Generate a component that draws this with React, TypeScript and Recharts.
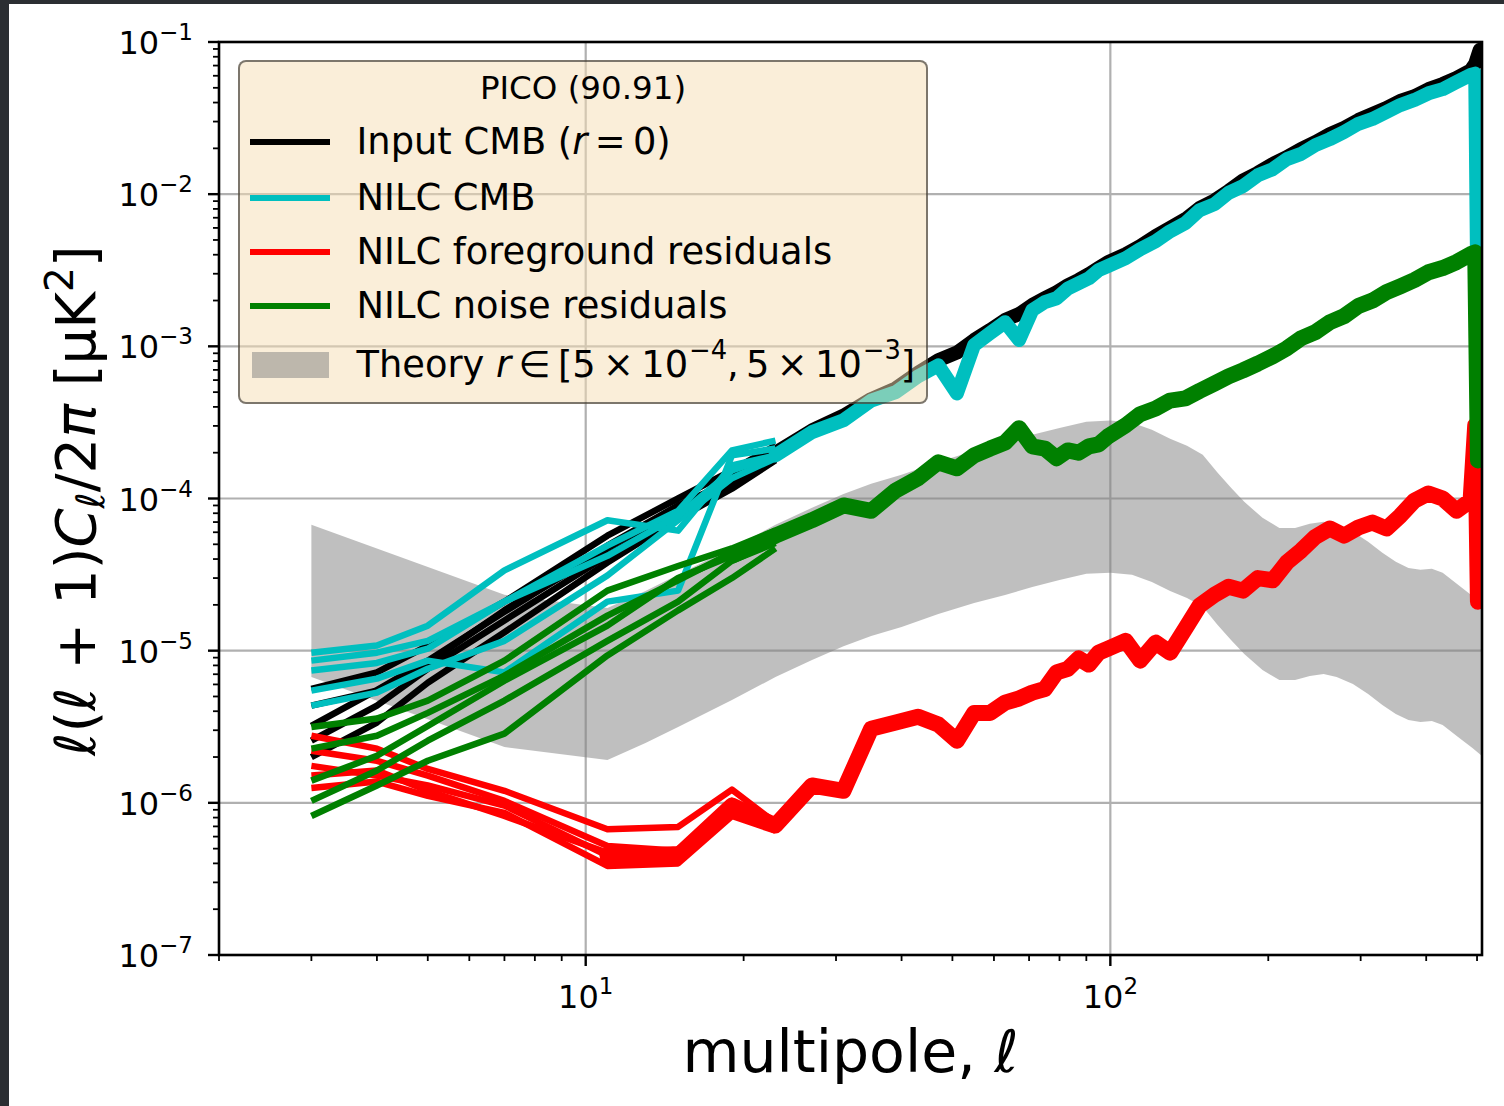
import React from 'react';
import { ComposedChart, Line, Area, XAxis, YAxis, CartesianGrid } from 'recharts';

// ---------------- data ----------------
const ELL = [3, 4, 5, 7, 11, 15, 19, 23, 27, 31, 35, 39, 43, 47, 51, 55, 59, 63, 67, 71, 75, 79, 83, 87, 91, 95, 99,
  107, 114, 122, 130, 139, 148, 158, 168, 179, 191, 204, 217, 231, 246, 262, 279, 297, 316, 336, 357, 380, 404, 430,
  457, 486, 496, 502, 506];

const inputCmbMain = [3.2e-6, 5.5e-6, 8.6e-6, 1.8e-5, 4.7e-5, 9.0e-5, 1.31e-4, 2.0e-4, 2.8e-4, 3.5e-4, 4.5e-4, 5.3e-4,
  6.7e-4, 8.1e-4, 9.1e-4, 1.10e-3, 1.28e-3, 1.49e-3, 1.63e-3, 1.87e-3, 2.07e-3, 2.27e-3, 2.52e-3, 2.73e-3, 2.98e-3,
  3.27e-3, 3.58e-3, 4.03e-3, 4.55e-3, 5.3e-3, 6.0e-3, 6.85e-3, 8.1e-3, 9.1e-3, 1.05e-2, 1.23e-2, 1.38e-2, 1.58e-2,
  1.75e-2, 1.98e-2, 2.2e-2, 2.48e-2, 2.73e-2, 3.07e-2, 3.37e-2, 3.68e-2, 4.1e-2, 4.4e-2, 4.9e-2, 5.3e-2, 5.8e-2,
  6.5e-2, 7.2e-2, 8.2e-2, 8.9e-2];

const nilcCmbMain = [7.4e-6, 8.3e-6, 1.03e-5, 2.1e-5, 4.2e-5, 7.7e-5, 1.53e-4, 1.92e-4, 2.73e-4, 3.27e-4, 4.4e-4, 5.0e-4,
  6.35e-4, 7.5e-4, 4.9e-4, 1.02e-3, 1.22e-3, 1.44e-3, 1.10e-3, 1.73e-3, 1.95e-3, 2.07e-3, 2.4e-3, 2.6e-3, 2.8e-3,
  3.17e-3, 3.37e-3, 3.8e-3, 4.35e-3, 4.9e-3, 5.7e-3, 6.45e-3, 7.85e-3, 8.6e-3, 1.02e-2, 1.13e-2, 1.33e-2, 1.46e-2,
  1.7e-2, 1.84e-2, 2.1e-2, 2.3e-2, 2.56e-2, 2.9e-2, 3.12e-2, 3.47e-2, 3.85e-2, 4.16e-2, 4.6e-2, 4.9e-2, 5.45e-2,
  6.07e-2, 6.2e-2, 8.1e-4, null];

const fgResMain = [1.75e-6, 1.51e-6, 1.3e-6, 9.6e-7, 4.5e-7, 4.5e-7, 9.6e-7, 7.1e-7, 1.3e-6, 1.2e-6, 3.07e-6, 3.37e-6,
  3.68e-6, 3.27e-6, 2.56e-6, 3.9e-6, 3.9e-6, 4.55e-6, 4.85e-6, 5.3e-6, 5.6e-6, 7.2e-6, 7.6e-6, 8.9e-6, 8.1e-6, 9.7e-6,
  1.03e-5, 1.16e-5, 8.6e-6, 1.13e-5, 9.7e-6, 1.4e-5, 1.98e-5, 2.33e-5, 2.63e-5, 2.48e-5, 3.0e-5, 2.9e-5, 3.8e-5,
  4.55e-5, 5.6e-5, 6.35e-5, 5.7e-5, 6.45e-5, 6.95e-5, 6.35e-5, 7.7e-5, 9.7e-5, 1.08e-4, 1.0e-4, 8.3e-5, 9.7e-5,
  3.03e-4, 2.1e-5, null];

const noiseResMain = [1.4e-6, 2.04e-6, 3.2e-6, 6.35e-6, 1.46e-5, 3.0e-5, 4.2e-5, 5.7e-5, 7.2e-5, 9.0e-5, 8.3e-5, 1.13e-4,
  1.36e-4, 1.73e-4, 1.58e-4, 1.92e-4, 2.13e-4, 2.33e-4, 2.9e-4, 2.2e-4, 2.13e-4, 1.84e-4, 2.07e-4, 2.0e-4, 2.2e-4,
  2.27e-4, 2.56e-4, 3.03e-4, 3.58e-4, 3.9e-4, 4.4e-4, 4.55e-4, 5.1e-4, 5.7e-4, 6.35e-4, 6.95e-4, 7.7e-4, 8.6e-4,
  9.7e-4, 1.13e-3, 1.24e-3, 1.44e-3, 1.58e-3, 1.84e-3, 2.0e-3, 2.27e-3, 2.48e-3, 2.73e-3, 3.07e-3, 3.27e-3, 3.58e-3,
  4.03e-3, 4.15e-3, 1.78e-4, null];

// individual simulations at low multipoles
const ELL_LOW = [3, 4, 5, 7, 11, 15, 19, 23];

const inputCmbSims = [
  [5.6e-6, 7.2e-6, 1.08e-5, 2.1e-5, 5.7e-5, 1.0e-4, 1.53e-4, 2.23e-4],
  [4.35e-6, 5.46e-6, 8.3e-6, 1.84e-5, 4.9e-5, 9.0e-5, 1.28e-4, 2.07e-4],
  [2.56e-6, 4.35e-6, 7.6e-6, 1.58e-5, 4.2e-5, 8.1e-5, 1.28e-4, 1.92e-4],
  [2.0e-6, 3.37e-6, 6.15e-6, 1.32e-5, 3.8e-5, 7.4e-5, 1.16e-4, 1.78e-4],
];
const nilcCmbSims = [
  [9.7e-6, 1.08e-5, 1.46e-5, 3.37e-5, 7.2e-5, 6.15e-5, 1.65e-4, 1.92e-4],
  [8.6e-6, 9.7e-6, 1.16e-5, 2.1e-5, 4.9e-5, 8.3e-5, 2.07e-4, 2.4e-4],
  [5.46e-6, 6.55e-6, 8.6e-6, 7.2e-6, 2.1e-5, 2.48e-5, 1.92e-4, 2.13e-4],
  [4.35e-6, 5.3e-6, 7.6e-6, 1.16e-5, 3.12e-5, 7.2e-5, 1.36e-4, 1.84e-4],
];
const fgResSims = [
  [2.76e-6, 2.27e-6, 1.67e-6, 1.2e-6, 6.7e-7, 6.95e-7, 1.22e-6, 7.4e-7],
  [2.2e-6, 1.89e-6, 1.51e-6, 1.03e-6, 5.2e-7, 4.85e-7, 1.03e-6, 6.7e-7],
  [1.51e-6, 1.63e-6, 1.2e-6, 8.2e-7, 4.7e-7, 4.95e-7, 8.6e-7, 7.6e-7],
  [1.25e-6, 1.38e-6, 1.11e-6, 8.6e-7, 3.85e-7, 4.0e-7, 8.2e-7, 6.55e-7],
];
const noiseResSims = [
  [3.15e-6, 3.58e-6, 4.7e-6, 8.6e-6, 2.48e-5, 3.6e-5, 4.7e-5, 6.15e-5],
  [2.27e-6, 2.76e-6, 3.9e-6, 6.85e-6, 1.7e-5, 2.9e-5, 4.4e-5, 5.46e-5],
  [1.03e-6, 1.63e-6, 2.56e-6, 4.7e-6, 1.16e-5, 2.1e-5, 3.9e-5, 5.1e-5],
  [8.2e-7, 1.3e-6, 1.89e-6, 2.85e-6, 9.3e-6, 1.84e-5, 3.0e-5, 4.7e-5],
];

// theory band r in [5e-4, 5e-3]
const THEORY_ELL = [3, 7, 11, 13, 15, 19, 23, 27, 31, 35, 40, 47, 55, 63, 71, 80, 90, 100, 110, 120, 130, 140, 150, 160,
  170, 180, 195, 210, 225, 240, 255, 270, 290, 310, 330, 350, 370, 390, 410, 430, 460, 490, 511];
const theoryLow = [6.71e-6, 2.33e-6, 1.91e-6, 2.47e-6, 3.15e-6, 4.74e-6, 6.71e-6, 8.69e-6, 1.07e-5, 1.25e-5, 1.43e-5,
  1.74e-5, 2.06e-5, 2.32e-5, 2.62e-5, 2.91e-5, 3.2e-5, 3.25e-5, 3.15e-5, 2.83e-5, 2.47e-5, 2.22e-5, 1.94e-5, 1.48e-5,
  1.17e-5, 9.51e-6, 7.46e-6, 6.41e-6, 6.41e-6, 6.82e-6, 7.03e-6, 6.71e-6, 6.04e-6, 5.19e-6, 4.40e-6, 3.84e-6, 3.50e-6,
  3.40e-6, 3.45e-6, 3.25e-6, 2.71e-6, 2.29e-6, 2.03e-6];
const theoryHigh = [6.71e-5, 2.33e-5, 1.91e-5, 2.47e-5, 3.15e-5, 4.74e-5, 6.71e-5, 8.69e-5, 1.07e-4, 1.25e-4, 1.43e-4,
  1.74e-4, 2.06e-4, 2.32e-4, 2.62e-4, 2.91e-4, 3.2e-4, 3.25e-4, 3.15e-4, 2.83e-4, 2.47e-4, 2.22e-4, 1.94e-4, 1.48e-4,
  1.17e-4, 9.51e-5, 7.46e-5, 6.41e-5, 6.41e-5, 6.82e-5, 7.03e-5, 6.71e-5, 6.04e-5, 5.19e-5, 4.40e-5, 3.84e-5, 3.50e-5,
  3.40e-5, 3.45e-5, 3.25e-5, 2.71e-5, 2.29e-5, 2.03e-5];

// ticks
const X_MAJOR = [10, 100];
const X_TICKS = [2, 3, 4, 5, 6, 7, 8, 9, 10, 20, 30, 40, 50, 60, 70, 80, 90, 100, 200, 300, 400, 500];
const Y_MAJOR = [1e-7, 1e-6, 1e-5, 1e-4, 1e-3, 1e-2, 1e-1];
const Y_TICKS: number[] = [];
Y_MAJOR.forEach((d, i) => {
  Y_TICKS.push(d);
  if (i < Y_MAJOR.length - 1) [2, 3, 4, 5, 6, 7, 8, 9].forEach((m) => Y_TICKS.push(Number((m * d).toPrecision(3))));
});

const LEGEND_TITLE = 'PICO (90.91)';

// ---------------- helpers ----------------
const COLORS = { input: '#000000', cmb: '#00bfbf', fg: '#ff0000', noise: '#008000', band: '#808080' };
const FONT = '"DejaVu Sans", Verdana, sans-serif';

const pts = (ls: number[], vs: (number | null)[]) =>
  ls.map((l, i) => ({ l, v: vs[i] })).filter((d) => d.v !== null && d.v !== undefined);

const isMajor = (v: number) => {
  const lg = Math.log10(v);
  return Math.abs(lg - Math.round(lg)) < 1e-6;
};

function XTick(props: any) {
  const { x, y, payload } = props;
  const v = payload.value as number;
  const major = isMajor(v);
  const e = Math.round(Math.log10(v));
  return (
    <g>
      <line x1={x} x2={x} y1={y} y2={y + (major ? 11 : 6)} stroke="#000" strokeWidth={major ? 2.4 : 1.8} />
      {major && (
        <text x={x} y={y + 53} textAnchor="middle" fontFamily={FONT} fontSize={32} fill="#000">
          10<tspan dy={-14} fontSize={23}>{String(e)}</tspan>
        </text>
      )}
    </g>
  );
}

function YTick(props: any) {
  const { x, y, payload } = props;
  const v = payload.value as number;
  const major = isMajor(v);
  const e = Math.round(Math.log10(v));
  return (
    <g>
      <line x1={x - (major ? 11 : 6)} x2={x} y1={y} y2={y} stroke="#000" strokeWidth={major ? 2.4 : 1.8} />
      {major && (
        <text x={x - 26} y={y + 12} textAnchor="end" fontFamily={FONT} fontSize={32} fill="#000">
          10<tspan dy={-14} fontSize={23}>{'\u2212' + String(-e)}</tspan>
        </text>
      )}
    </g>
  );
}

const W = 1504;
const H = 1106;
const PL = 219, PT = 42, PR = 1482, PB = 955;

function seriesLines(prefix: string, color: string, main: (number | null)[], sims: number[][], split: number, thick: number) {
  const out: any[] = [];
  sims.forEach((s, i) => {
    out.push(
      <Line key={`${prefix}-sim-${i}`} data={pts(ELL_LOW, s)} dataKey="v" type="linear" stroke={color}
        strokeWidth={6.5} dot={false} activeDot={false} isAnimationActive={false} strokeLinejoin="round" />
    );
  });
  const all = pts(ELL, main);
  out.push(
    <Line key={`${prefix}-low`} data={all.slice(0, split + 1)} dataKey="v" type="linear" stroke={color}
      strokeWidth={6.5} dot={false} activeDot={false} isAnimationActive={false} strokeLinejoin="round" />
  );
  out.push(
    <Line key={`${prefix}-high`} data={all.slice(split)} dataKey="v" type="linear" stroke={color}
      strokeWidth={thick} dot={false} activeDot={false} isAnimationActive={false} strokeLinejoin="round"
      strokeLinecap="round" />
  );
  return out;
}

function LegendRow({ cy, children, color, patch }: any) {
  const top = cy - 62.5 - 25;
  return (
    <div style={{ position: 'absolute', left: 0, top, height: 50, width: '100%' }}>
      {patch ? (
        <div style={{ position: 'absolute', left: 11.5, top: 12, width: 77, height: 26, background: 'rgba(128,128,128,0.5)' }} />
      ) : (
        <div style={{ position: 'absolute', left: 9.5, top: 22, width: 80, height: 6.5, background: color }} />
      )}
      <div style={{ position: 'absolute', left: 116.5, top: 0, height: 50, display: 'flex', alignItems: 'center', whiteSpace: 'nowrap', fontSize: 36.8 }}>
        {children}
      </div>
    </div>
  );
}

const sup: React.CSSProperties = { fontSize: '0.7em', position: 'relative', top: '-0.55em', marginLeft: 1 };

export default function App() {
  const band = THEORY_ELL.map((l, i) => ({ l, band: [theoryLow[i], theoryHigh[i]] }));

  return (
    <div style={{ position: 'absolute', left: 0, top: 0, width: W, height: H, background: '#2b2e32', overflow: 'hidden' }}>
      <div style={{ position: 'absolute', left: 9, top: 4, right: 0, bottom: 0, background: '#ffffff' }} />
      <div style={{ position: 'absolute', left: 0, top: 0 }}>
        <ComposedChart width={W} height={H} margin={{ top: PT, right: W - PR, bottom: H - PB - 60, left: PL - 100 }}>
          <CartesianGrid stroke="#b0b0b0" strokeWidth={2.2} horizontalValues={Y_MAJOR} verticalValues={X_MAJOR} />
          <XAxis dataKey="l" type="number" scale="log" domain={[2, 511]} allowDataOverflow ticks={X_TICKS}
            interval={0} tick={<XTick />} tickLine={false} axisLine={false} tickSize={0} tickMargin={0} height={60} />
          <YAxis type="number" scale="log" domain={[1e-7, 1e-1]} allowDataOverflow ticks={Y_TICKS}
            interval={0} tick={<YTick />} tickLine={false} axisLine={false} tickSize={0} tickMargin={0} width={100} />
          <Area data={band} dataKey="band" type="linear" fill={COLORS.band} fillOpacity={0.5} stroke="none"
            isAnimationActive={false} dot={false} activeDot={false} />
          {seriesLines('input', COLORS.input, inputCmbMain, inputCmbSims, 6, 14)}
          {seriesLines('cmb', COLORS.cmb, nilcCmbMain, nilcCmbSims, 7, 14)}
          {seriesLines('fg', COLORS.fg, fgResMain, fgResSims, 4, 16)}
          {seriesLines('noise', COLORS.noise, noiseResMain, noiseResSims, 6, 16)}
        </ComposedChart>
      </div>
      <svg width={W} height={H} style={{ position: 'absolute', left: 0, top: 0, pointerEvents: 'none' }}>
        <rect x={PL} y={PT} width={PR - PL} height={PB - PT} fill="none" stroke="#000" strokeWidth={2.6} />
        <text x={(PL + PR) / 2} y={1072} textAnchor="middle" fontFamily={FONT} fontSize={58.5} fill="#000">
          multipole, <tspan fontStyle="italic">ℓ</tspan>
        </text>
        <text transform={`translate(95,${(PT + PB) / 2 + 2}) rotate(-90)`} textAnchor="middle" fontFamily={FONT}
          fontSize={56} fill="#000">
          ℓ(ℓ + 1)<tspan fontStyle="italic">C</tspan><tspan fontSize={39} dy={9} fontStyle="italic">ℓ</tspan>
          <tspan dy={-9}>/2</tspan><tspan fontStyle="italic">π</tspan> [μK<tspan fontSize={39} dy={-22}>2</tspan>
          <tspan dy={22}>]</tspan>
        </text>
      </svg>
      <div style={{ position: 'absolute', left: 238, top: 60, width: 690, height: 344, boxSizing: 'border-box',
        background: 'rgba(245,222,179,0.5)', border: '2.5px solid rgba(0,0,0,0.5)', borderRadius: 8,
        fontFamily: FONT, color: '#000' }}>
        <div style={{ position: 'absolute', left: 0, width: '100%', top: 88 - 62.5 - 20, height: 40, display: 'flex',
          alignItems: 'center', justifyContent: 'center', fontSize: 32.5 }}>{LEGEND_TITLE}</div>
        <LegendRow cy={142} color={COLORS.input}>Input CMB (<i>r</i>&thinsp;=&thinsp;0)</LegendRow>
        <LegendRow cy={198} color={COLORS.cmb}>NILC CMB</LegendRow>
        <LegendRow cy={252} color={COLORS.fg}>NILC foreground residuals</LegendRow>
        <LegendRow cy={306} color={COLORS.noise}>NILC noise residuals</LegendRow>
        <LegendRow cy={365} patch>
          Theory&nbsp;<i>r</i>&thinsp;∈&thinsp;[5&thinsp;×&thinsp;10<span style={sup}>−4</span>,&thinsp;5&thinsp;×&thinsp;10<span style={sup}>−3</span>]
        </LegendRow>
      </div>
    </div>
  );
}
